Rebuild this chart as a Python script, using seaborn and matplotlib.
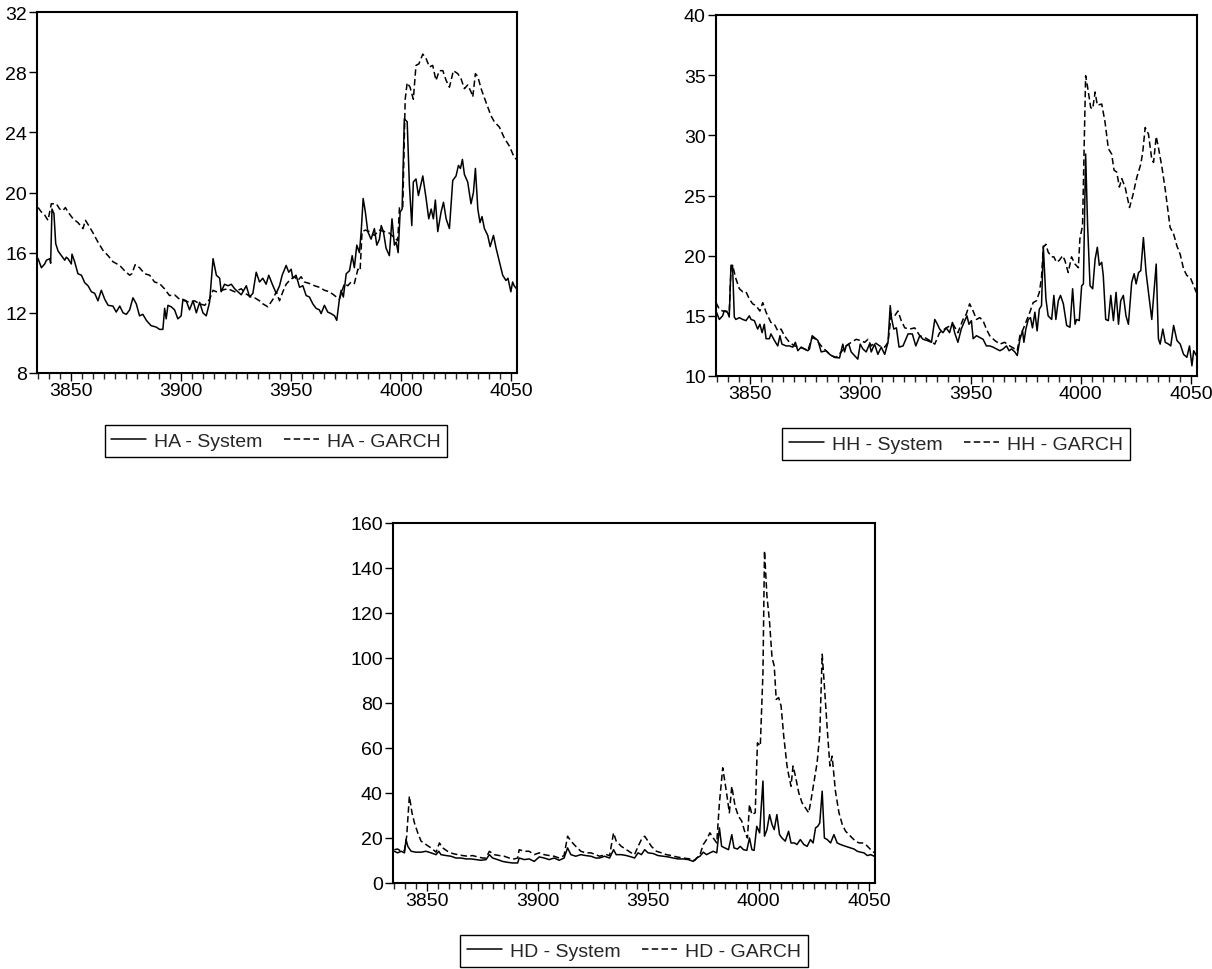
import matplotlib
matplotlib.use("Agg")
import matplotlib.pyplot as plt
from matplotlib.ticker import MultipleLocator
import seaborn as sns

# ---------------- data ----------------
ha_sys_x = [3835.1, 3836.6, 3838.1, 3838.9, 3840.4, 3840.8, 3841.4, 3842.3, 3843.1, 3844.2,
            3845.7, 3847.2, 3847.9, 3848.7, 3850.2, 3850.5, 3851.7, 3853.2, 3854.8, 3856.3,
            3857.8, 3859.3, 3860.8, 3862.3, 3863.8, 3865.4, 3866.9, 3869.1, 3870.6, 3872.2,
            3873.7, 3875.2, 3876.7, 3878.2, 3879.7, 3881.2, 3882.7, 3884.3, 3886.4, 3888.8,
            3890.3, 3891.8, 3892.6, 3893.3, 3894.1, 3895.6, 3897.1, 3898.6, 3900.1, 3900.9,
            3902.4, 3903.9, 3905.5, 3907.0, 3908.5, 3910.0, 3911.5, 3913.0, 3914.6, 3916.1,
            3917.6, 3918.3, 3919.8, 3921.4, 3922.9, 3924.4, 3925.9, 3927.4, 3929.7, 3931.2,
            3932.7, 3934.2, 3935.7, 3937.2, 3938.7, 3939.9, 3941.8, 3943.3, 3944.8, 3946.0,
            3947.8, 3949.0, 3950.1, 3950.8, 3952.3, 3953.9, 3955.4, 3956.9, 3958.4, 3959.9,
            3961.4, 3962.9, 3963.7, 3965.2, 3966.7, 3968.2, 3969.8, 3970.8, 3972.0, 3972.8,
            3973.8, 3975.1, 3976.6, 3977.8, 3978.8, 3979.9, 3981.1, 3981.9, 3982.8, 3983.8,
            3984.9, 3986.4, 3987.9, 3989.0, 3990.2, 3991.0, 3992.0, 3993.2, 3994.7, 3995.9,
            3997.0, 3997.8, 3998.7, 3999.6, 4000.5, 4001.5, 4002.8, 4003.8, 4004.9, 4005.6,
            4006.8, 4007.9, 4009.9, 4011.4, 4012.6, 4013.7, 4014.7, 4015.6, 4016.7, 4018.2,
            4019.3, 4020.5, 4022.0, 4023.5, 4025.0, 4026.1, 4027.0, 4027.9, 4028.8, 4030.3,
            4031.8, 4032.9, 4033.8, 4034.9, 4035.9, 4036.8, 4037.9, 4039.4, 4040.5, 4042.0,
            4043.2, 4044.7, 4046.2, 4047.7, 4048.6, 4049.9, 4050.7, 4051.4, 4052.5]
ha_sys = [15.6, 15.0, 15.25, 15.5, 15.6, 15.3, 18.9, 18.6, 16.6, 16.1,
          15.8, 15.5, 15.7, 15.6, 15.25, 15.9, 15.4, 14.6, 14.5, 14.0,
          13.8, 13.4, 13.3, 12.8, 13.5, 12.9, 12.5, 12.45, 12.05, 12.45,
          12.0, 11.9, 12.2, 13.0, 12.6, 11.8, 11.9, 11.5, 11.15, 11.05,
          10.9, 10.9, 12.3, 11.6, 12.5, 12.4, 12.2, 11.6, 11.8, 12.9,
          12.8, 12.2, 12.8, 12.0, 12.7, 12.0, 11.8, 12.7, 15.6, 14.5,
          14.3, 13.4, 13.9, 13.8, 13.9, 13.6, 13.4, 13.2, 13.8, 13.05,
          13.3, 14.7, 14.05, 14.3, 13.9, 14.5, 13.8, 13.3, 13.8, 14.5,
          15.15, 14.7, 14.9, 14.3, 14.5, 13.7, 13.8, 13.15, 13.05, 12.6,
          12.3, 12.2, 11.95, 12.5, 12.05, 11.95, 11.8, 11.5, 12.9, 13.5,
          13.05, 14.6, 14.8, 15.8, 15.0, 16.5, 16.0, 17.4, 19.6, 18.7,
          17.4, 16.9, 17.6, 16.5, 16.9, 17.8, 17.4, 16.3, 15.8, 18.25,
          16.5, 16.7, 16.0, 18.7, 18.9, 24.9, 24.7, 20.5, 17.8, 20.7,
          20.9, 19.8, 21.1, 19.6, 18.25, 18.9, 18.25, 19.5, 17.4, 18.7,
          19.35, 18.25, 17.6, 20.8, 21.1, 21.8, 21.6, 22.2, 21.2, 20.7,
          19.25, 20.0, 21.6, 18.9, 18.0, 18.4, 17.6, 17.15, 16.4, 17.15,
          16.3, 15.4, 14.5, 14.15, 14.3, 13.4, 14.05, 13.8, 13.6]

ha_garch_x = [3835.1, 3836.6, 3838.1, 3839.6, 3841.1, 3843.4, 3844.9, 3846.4, 3847.5, 3848.7,
              3851.0, 3853.2, 3855.5, 3856.6, 3858.1, 3860.1, 3862.3, 3864.6, 3866.9, 3869.1,
              3872.2, 3874.4, 3876.7, 3877.7, 3879.2, 3881.2, 3883.5, 3885.8, 3888.0, 3890.3,
              3892.5, 3894.8, 3897.1, 3899.4, 3901.6, 3903.9, 3906.2, 3908.5, 3910.8, 3913.0,
              3914.6, 3916.1, 3918.3, 3921.4, 3924.4, 3927.4, 3929.7, 3931.9, 3933.5, 3935.7,
              3937.2, 3939.5, 3941.8, 3943.3, 3944.8, 3946.3, 3947.8, 3949.3, 3951.6, 3953.1,
              3954.6, 3956.1, 3958.4, 3960.7, 3962.9, 3965.2, 3967.5, 3969.8, 3972.0, 3974.3,
              3975.8, 3977.3, 3978.8, 3980.4, 3981.4, 3982.3, 3983.8, 3985.7, 3987.9, 3990.2,
              3992.5, 3994.7, 3997.0, 3998.5, 3999.3, 4000.8, 4001.9, 4002.8, 4004.1, 4005.6,
              4006.8, 4008.1, 4009.9, 4011.4, 4012.9, 4014.4, 4015.9, 4017.4, 4019.0, 4020.5,
              4022.0, 4023.8, 4025.8, 4027.3, 4028.8, 4030.3, 4031.8, 4032.6, 4033.8, 4034.9,
              4036.4, 4038.6, 4040.9, 4042.4, 4044.7, 4047.0, 4049.2, 4051.4, 4052.5]
ha_garch = [19.0, 18.7, 18.5, 18.15, 19.25, 19.25, 18.9, 18.8, 19.0, 18.7,
            18.25, 18.0, 17.6, 18.15, 17.8, 17.3, 16.7, 16.15, 15.8, 15.4,
            15.15, 14.8, 14.5, 14.6, 15.2, 15.0, 14.6, 14.5, 14.05, 13.95,
            13.6, 13.15, 13.2, 12.9, 12.8, 12.7, 12.8, 12.6, 12.5, 12.9,
            13.5, 13.4, 13.5, 13.6, 13.4, 13.6, 13.25, 13.05, 13.0, 12.8,
            12.6, 12.4, 12.9, 13.4, 12.8, 13.4, 13.9, 14.15, 14.4, 14.15,
            14.4, 14.05, 13.95, 13.8, 13.7, 13.5, 13.4, 13.15, 12.9, 13.95,
            13.8, 14.05, 13.95, 14.9, 14.8, 17.4, 17.5, 17.4, 17.15, 17.5,
            17.4, 17.3, 17.0, 16.8, 19.0, 19.0, 26.2, 27.3, 27.0, 26.2,
            28.45, 28.55, 29.2, 28.9, 28.35, 28.45, 27.45, 28.1, 28.1, 27.45,
            27.0, 28.1, 27.9, 27.55, 26.9, 27.15, 26.7, 26.35, 27.9, 27.7,
            26.9, 26.0, 25.1, 24.7, 24.35, 23.6, 23.1, 22.35, 22.2]

hh_sys_x = [3834.6, 3836.1, 3837.6, 3838.3, 3839.8, 3840.6, 3841.4, 3842.1, 3842.9, 3843.6,
            3845.2, 3846.7, 3848.2, 3849.7, 3850.5, 3852.0, 3853.5, 3854.5, 3855.5, 3856.5,
            3857.3, 3858.8, 3859.5, 3861.1, 3862.6, 3863.6, 3864.5, 3866.4, 3867.9, 3869.4,
            3870.6, 3871.7, 3873.2, 3874.7, 3876.2, 3877.0, 3878.2, 3879.2, 3880.8, 3882.3,
            3884.5, 3886.1, 3888.3, 3890.6, 3892.1, 3892.9, 3893.6, 3894.8, 3895.9, 3897.4,
            3898.9, 3900.0, 3901.2, 3902.7, 3904.2, 3905.0, 3906.5, 3908.0, 3909.5, 3911.1,
            3912.6, 3913.6, 3914.2, 3915.2, 3916.4, 3917.6, 3919.4, 3921.7, 3923.6, 3925.2,
            3927.0, 3928.5, 3930.3, 3932.3, 3933.8, 3935.0, 3936.0, 3937.5, 3939.0, 3940.5,
            3941.8, 3942.8, 3944.3, 3945.8, 3947.4, 3948.4, 3949.3, 3950.4, 3951.2, 3952.7,
            3954.2, 3955.7, 3957.2, 3958.7, 3960.2, 3961.8, 3963.3, 3964.8, 3966.3, 3967.5,
            3968.6, 3970.1, 3971.2, 3972.4, 3973.6, 3974.2, 3975.1, 3976.2, 3977.2, 3978.1,
            3979.2, 3980.2, 3981.2, 3982.2, 3983.0, 3984.2, 3985.2, 3986.8, 3987.8, 3988.7,
            3989.8, 3990.8, 3992.1, 3993.6, 3995.1, 3996.3, 3997.4, 3998.1, 3999.3, 4000.4,
            4001.2, 4002.2, 4003.1, 4004.2, 4005.4, 4006.5, 4007.5, 4008.4, 4009.5, 4010.2,
            4011.3, 4012.5, 4013.6, 4014.8, 4016.0, 4017.1, 4018.1, 4019.3, 4020.5, 4021.6,
            4023.1, 4024.2, 4025.1, 4026.2, 4027.2, 4028.4, 4029.6, 4030.7, 4032.2, 4033.3,
            4034.2, 4035.2, 4036.0, 4037.2, 4038.3, 4039.8, 4040.8, 4042.1, 4043.6, 4045.1,
            4046.6, 4048.1, 4049.3, 4050.4, 4051.2, 4052.4]
hh_sys = [15.4, 14.7, 15.0, 15.4, 15.3, 14.9, 19.2, 19.2, 14.9, 14.7,
          14.85, 14.7, 14.6, 15.0, 14.7, 14.6, 13.9, 14.3, 13.6, 14.3,
          13.1, 13.1, 13.5, 12.95, 12.5, 13.35, 12.65, 12.5, 12.5, 12.4,
          12.8, 12.1, 12.4, 12.25, 12.1, 12.25, 13.35, 13.2, 12.95, 12.0,
          12.1, 11.8, 11.55, 11.5, 12.65, 12.0, 12.5, 12.65, 12.0, 11.7,
          11.4, 12.65, 12.25, 12.0, 12.65, 12.0, 12.65, 11.8, 12.4, 11.8,
          12.8, 15.85, 14.8, 13.9, 14.0, 12.4, 12.5, 13.5, 13.5, 12.5,
          13.35, 13.05, 12.95, 12.8, 14.7, 14.3, 13.9, 13.6, 14.0, 13.6,
          14.45, 13.6, 12.8, 13.9, 14.6, 15.0, 14.3, 14.6, 13.1, 13.35,
          13.2, 13.05, 12.5, 12.5, 12.4, 12.25, 12.1, 12.25, 12.5, 12.1,
          12.25, 12.0, 11.7, 13.05, 13.75, 12.8, 13.9, 14.7, 14.85, 14.0,
          15.3, 13.75, 15.55, 15.85, 20.8, 16.4, 15.0, 14.7, 16.7, 14.7,
          16.25, 16.7, 16.0, 14.2, 14.05, 17.25, 14.3, 14.7, 14.6, 17.5,
          17.65, 28.45, 22.5, 17.5, 17.25, 19.7, 20.7, 19.2, 19.45, 18.35,
          14.7, 14.6, 16.7, 14.6, 16.95, 14.3, 16.25, 16.7, 15.0, 14.3,
          17.8, 18.5, 17.65, 18.6, 18.75, 21.5, 18.6, 16.95, 14.7, 17.25,
          19.3, 13.1, 12.65, 13.9, 12.8, 12.65, 12.5, 14.2, 12.95, 12.65,
          11.8, 11.55, 12.5, 10.85, 12.1, 11.7]

hh_garch_x = [3834.6, 3836.1, 3837.6, 3839.1, 3840.6, 3841.4, 3842.1, 3843.6, 3845.2, 3846.7,
              3848.2, 3849.7, 3851.2, 3852.7, 3854.5, 3855.8, 3857.3, 3859.5, 3861.1, 3862.6,
              3864.1, 3865.6, 3867.9, 3870.2, 3872.4, 3874.7, 3876.2, 3878.2, 3880.0, 3882.3,
              3884.5, 3886.8, 3889.1, 3891.4, 3893.6, 3895.9, 3898.2, 3900.0, 3902.0, 3903.5,
              3905.0, 3906.5, 3908.8, 3911.1, 3912.6, 3914.1, 3915.6, 3917.1, 3918.6, 3920.2,
              3922.4, 3924.7, 3927.0, 3929.2, 3931.5, 3933.8, 3936.0, 3939.0, 3942.1, 3944.3,
              3946.6, 3948.1, 3949.6, 3951.2, 3952.7, 3954.2, 3955.7, 3957.2, 3958.7, 3961.0,
              3963.3, 3965.5, 3967.8, 3970.1, 3971.2, 3972.4, 3973.9, 3975.4, 3976.9, 3978.4,
              3979.9, 3981.2, 3982.2, 3983.0, 3984.2, 3985.2, 3986.8, 3987.8, 3989.0, 3990.2,
              3991.8, 3992.8, 3994.3, 3995.8, 3997.4, 3998.9, 3999.6, 4000.8, 4002.2, 4003.1,
              4004.5, 4005.4, 4006.5, 4007.5, 4009.5, 4011.0, 4012.5, 4014.0, 4015.1, 4016.3,
              4017.5, 4018.6, 4020.1, 4022.1, 4023.6, 4025.4, 4027.2, 4028.1, 4029.2, 4030.7,
              4032.2, 4033.0, 4034.2, 4035.2, 4036.8, 4038.3, 4040.5, 4042.1, 4043.6, 4045.1,
              4046.6, 4048.1, 4049.6, 4051.2, 4052.4]
hh_garch = [16.1, 15.55, 15.4, 15.4, 15.3, 18.9, 19.2, 18.1, 17.25, 17.0,
            17.0, 16.4, 16.0, 15.85, 15.4, 16.1, 15.3, 14.45, 14.3, 13.75,
            13.9, 13.35, 12.8, 12.5, 12.4, 12.25, 12.1, 13.2, 13.05, 12.5,
            12.1, 11.7, 11.55, 12.0, 12.5, 12.8, 13.05, 12.95, 12.8, 13.05,
            12.5, 12.8, 12.5, 12.4, 12.8, 15.15, 15.0, 15.4, 14.6, 14.0,
            13.9, 14.0, 13.35, 13.2, 12.95, 12.65, 13.6, 14.0, 14.3, 13.6,
            14.7, 15.15, 16.0, 15.4, 14.7, 14.85, 14.6, 13.9, 13.35, 12.95,
            12.65, 12.8, 12.5, 12.25, 12.1, 13.35, 13.9, 14.6, 15.3, 16.1,
            16.25, 16.95, 18.2, 20.7, 20.95, 20.3, 19.9, 19.9, 19.45, 19.6,
            20.0, 19.6, 18.6, 19.9, 19.3, 19.0, 21.4, 22.5, 34.95, 34.0,
            32.3, 32.2, 33.6, 32.5, 32.6, 31.1, 28.9, 28.45, 27.1, 26.95,
            25.7, 26.4, 25.7, 24.0, 25.0, 26.5, 27.6, 28.6, 30.65, 30.1,
            28.0, 27.75, 29.9, 29.0, 27.35, 25.5, 22.35, 21.8, 20.8, 20.1,
            18.9, 18.35, 18.2, 17.5, 16.95]

hd_sys_x = [3835.2, 3836.7, 3838.3, 3839.8, 3840.5, 3841.3, 3842.8, 3845.0, 3847.3, 3849.5,
            3851.8, 3854.1, 3855.3, 3856.3, 3858.6, 3860.8, 3863.1, 3865.4, 3867.6, 3869.9,
            3872.1, 3874.4, 3876.7, 3878.2, 3879.7, 3881.9, 3884.2, 3886.4, 3888.7, 3891.0,
            3891.7, 3894.0, 3896.2, 3898.5, 3900.8, 3903.0, 3905.3, 3907.5, 3909.8, 3912.0,
            3913.6, 3915.1, 3917.3, 3919.6, 3921.8, 3924.1, 3926.4, 3928.0, 3930.3, 3932.6,
            3934.4, 3935.6, 3937.9, 3940.2, 3942.4, 3943.9, 3945.5, 3947.0, 3948.5, 3950.0,
            3952.3, 3954.5, 3956.8, 3959.1, 3961.4, 3963.6, 3965.9, 3968.2, 3970.5, 3972.0,
            3973.5, 3975.0, 3976.5, 3978.0, 3979.5, 3981.1, 3982.3, 3983.3, 3984.8, 3986.4,
            3987.9, 3988.9, 3990.5, 3991.7, 3993.2, 3994.7, 3995.9, 3997.0, 3998.0, 3999.2,
            4000.5, 4001.1, 4002.0, 4002.7, 4003.8, 4005.0, 4006.1, 4007.1, 4008.3, 4009.5,
            4010.6, 4012.1, 4013.6, 4014.7, 4016.2, 4017.4, 4018.9, 4020.5, 4022.0, 4023.5,
            4024.7, 4025.8, 4026.8, 4027.7, 4028.8, 4029.8, 4031.1, 4032.6, 4034.1, 4035.6,
            4037.1, 4039.4, 4041.7, 4043.2, 4044.7, 4046.2, 4047.7, 4049.2, 4050.8, 4052.3]
hd_sys = [14.1, 13.4, 14.1, 13.4, 19.3, 16.3, 14.1, 13.7, 13.7, 14.1,
          13.4, 12.6, 14.1, 12.6, 12.2, 11.9, 11.1, 11.1, 10.7, 10.7,
          10.4, 10.1, 10.4, 12.6, 11.1, 10.4, 9.6, 9.2, 8.9, 8.9,
          11.1, 10.4, 10.7, 9.6, 11.6, 11.1, 10.4, 11.1, 10.1, 11.1,
          15.6, 12.6, 11.9, 12.6, 12.2, 11.9, 11.1, 11.1, 11.9, 11.1,
          14.8, 12.6, 12.6, 12.2, 11.6, 11.1, 13.4, 12.6, 14.8, 13.4,
          13.1, 12.2, 11.9, 11.6, 11.1, 10.7, 10.7, 10.4, 9.6, 11.1,
          11.9, 13.7, 12.6, 13.4, 14.1, 13.4, 24.5, 16.3, 15.6, 14.8,
          21.5, 15.6, 15.1, 16.3, 14.8, 14.5, 20.0, 14.8, 14.5, 25.2,
          22.3, 31.9, 45.3, 20.8, 23.7, 30.4, 26.0, 23.7, 30.4, 21.5,
          20.0, 18.6, 23.0, 17.8, 17.8, 17.1, 19.3, 17.1, 16.3, 19.3,
          17.8, 24.5, 25.2, 26.7, 40.8, 20.0, 19.3, 17.8, 21.5, 17.8,
          17.1, 16.3, 15.6, 15.1, 14.1, 13.7, 13.4, 12.2, 12.6, 11.9]

hd_garch_x = [3835.2, 3836.7, 3838.3, 3839.8, 3840.8, 3842.0, 3843.2, 3844.3, 3845.8, 3847.3,
              3849.5, 3851.8, 3854.1, 3855.6, 3857.1, 3859.3, 3861.6, 3863.9, 3866.1, 3868.4,
              3870.6, 3872.9, 3875.2, 3876.7, 3878.2, 3880.4, 3882.7, 3884.9, 3887.2, 3889.5,
              3891.0, 3891.7, 3894.0, 3896.2, 3898.5, 3900.8, 3903.0, 3905.3, 3907.5, 3909.8,
              3912.0, 3913.6, 3915.1, 3917.3, 3919.6, 3921.8, 3924.1, 3926.4, 3928.0, 3931.1,
              3932.6, 3934.4, 3935.6, 3937.9, 3940.2, 3942.4, 3943.9, 3945.5, 3947.0, 3948.5,
              3950.0, 3951.5, 3953.8, 3956.1, 3958.3, 3960.6, 3962.9, 3965.9, 3968.9, 3971.2,
              3973.5, 3975.0, 3976.5, 3978.0, 3979.5, 3981.1, 3982.3, 3983.8, 3985.3, 3986.8,
              3987.9, 3989.4, 3990.9, 3992.4, 3993.9, 3995.0, 3995.9, 3997.0, 3998.5, 3999.5,
              4000.8, 4002.0, 4002.7, 4003.8, 4005.0, 4006.1, 4007.1, 4008.0, 4009.1, 4010.2,
              4011.4, 4012.9, 4013.6, 4014.7, 4015.6, 4016.7, 4018.2, 4019.7, 4021.2, 4022.7,
              4023.8, 4025.3, 4026.5, 4027.7, 4028.8, 4029.8, 4031.1, 4032.3, 4033.3, 4034.8,
              4036.4, 4037.9, 4039.4, 4040.9, 4042.4, 4043.9, 4045.5, 4047.0, 4048.5, 4050.0,
              4051.5, 4052.6]
hd_garch = [14.8, 15.1, 14.1, 14.5, 20.8, 38.6, 31.2, 26.7, 22.3, 18.6,
            17.1, 15.6, 13.7, 17.8, 15.6, 14.1, 13.1, 12.6, 12.2, 11.9,
            12.2, 11.6, 11.1, 11.1, 14.1, 12.6, 12.2, 11.9, 11.1, 10.7,
            11.1, 14.8, 14.1, 14.1, 12.6, 13.4, 12.6, 12.2, 11.9, 11.1,
            12.2, 20.8, 18.6, 16.3, 14.1, 13.4, 13.4, 12.6, 11.9, 12.6,
            12.2, 22.3, 18.6, 16.3, 14.8, 13.4, 12.6, 16.3, 19.3, 20.8,
            18.6, 16.3, 14.1, 13.4, 12.6, 12.2, 11.6, 11.1, 10.7, 10.1,
            12.6, 17.1, 19.3, 22.3, 20.0, 17.8, 35.6, 51.2, 41.6, 31.2,
            43.0, 34.1, 29.7, 27.5, 22.3, 20.0, 34.9, 30.4, 31.2, 62.3,
            60.9, 93.5, 147.7, 127.6, 115.8, 100.2, 96.5, 81.6, 82.4, 78.7,
            65.3, 52.0, 48.2, 43.0, 52.0, 47.5, 40.1, 35.6, 33.4, 31.2,
            37.1, 46.0, 53.4, 66.0, 101.7, 87.6, 68.3, 52.0, 56.4, 40.8,
            31.2, 26.0, 23.0, 21.5, 20.0, 18.6, 17.8, 17.8, 17.1, 15.6,
            14.1, 13.4]

panel_names = ["HA", "HH", "HD"]
ylims = [(8, 32), (10, 40), (0, 160)]
ysteps = [4, 5, 20]
xmajor = [3850, 3900, 3950, 4000, 4050]

# ---------------- styling ----------------
sns.set_style("ticks")
plt.rcParams["font.family"] = ["Liberation Sans", "DejaVu Sans"]
plt.rcParams["axes.linewidth"] = 1.5

W, H = 1212, 970
fig = plt.figure(figsize=(W / 100, H / 100), dpi=100)


def px_axes(left, top, right, bottom):
    return fig.add_axes([left / W, 1 - bottom / H, (right - left) / W, (bottom - top) / H])


boxes = [(37, 13, 517, 374), (716, 16, 1197, 377), (393, 524, 875, 884)]
legend_centers = [(276, 442), (956, 445), (634, 952)]
series = [(ha_sys_x, ha_sys, ha_garch_x, ha_garch),
          (hh_sys_x, hh_sys, hh_garch_x, hh_garch),
          (hd_sys_x, hd_sys, hd_garch_x, hd_garch)]

for i, name in enumerate(panel_names):
    ax = px_axes(*boxes[i])
    sx, sy, gx, gy = series[i]
    sns.lineplot(x=sx, y=sy, ax=ax, color="black", linewidth=1.1,
                 label=f"{name} - System")
    sns.lineplot(x=gx, y=gy, ax=ax, color="black", linewidth=1.1,
                 linestyle=(0, (4.2, 2.2)), label=f"{name} - GARCH")
    ax.set_xlim(3834.6, 4052.7)
    ax.set_ylim(*ylims[i])
    ax.yaxis.set_major_locator(MultipleLocator(ysteps[i]))
    ax.set_xticks(xmajor)
    ax.xaxis.set_minor_locator(MultipleLocator(5))
    ax.tick_params(axis="x", which="major", length=5.8, width=1, direction="out",
                   labelsize=14, pad=0.5, colors="black")
    ax.tick_params(axis="x", which="minor", length=4.3, width=1, direction="out")
    ax.tick_params(axis="y", which="major", length=5.8, width=1, direction="out",
                   labelsize=14, pad=1.5, colors="black")
    ax.set_xlabel("")
    ax.set_ylabel("")
    for s in ax.spines.values():
        s.set_linewidth(1.5)
        s.set_color("black")
    cx, cy = legend_centers[i]
    leg = ax.legend(loc="center", bbox_to_anchor=(cx / W, 1 - cy / H),
                    bbox_transform=fig.transFigure, ncol=2, frameon=True,
                    fancybox=False, shadow=False, framealpha=1, edgecolor="black",
                    fontsize=14, handlelength=1.8, handletextpad=0.4,
                    columnspacing=1.1, borderpad=0.35, borderaxespad=0)
    leg.get_frame().set_linewidth(1.0)

fig.savefig("out.png", dpi=100)
